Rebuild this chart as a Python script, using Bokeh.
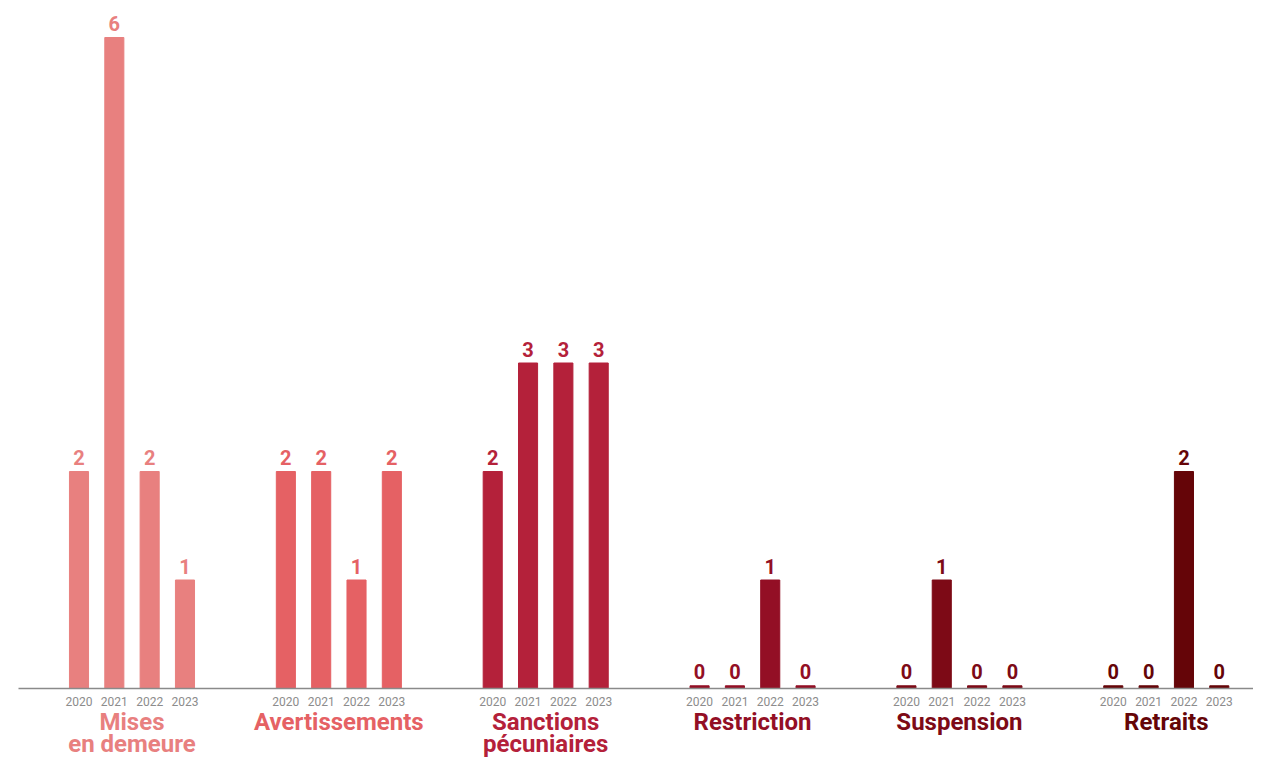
from bokeh.plotting import figure
from bokeh.models import ColumnDataSource, Range1d
from bokeh.core.properties import value
from bokeh.embed import file_html
from bokeh.resources import INLINE

# ---- data ----
categories = ["Mises\nen demeure", "Avertissements", "Sanctions\npécuniaires",
              "Restriction", "Suspension", "Retraits"]
years = ["2020", "2021", "2022", "2023"]
mises = [2, 6, 2, 1]
avertissements = [2, 2, 1, 2]
sanctions = [2, 3, 3, 3]
restriction = [0, 0, 1, 0]
suspension = [0, 1, 0, 0]
retraits = [0, 0, 2, 0]
series = [mises, avertissements, sanctions, restriction, suspension, retraits]
colors = ["#E8807F", "#E56164", "#B4213A", "#930F25", "#7D0A16", "#650508"]

# ---- layout constants ----
GROUP_STEP = 5.855   # bar slots between group starts
BAR_W = 0.54
ZERO_H = 0.025       # visible stub for zero values
PX_PER_UNIT_X = 35.33
PX_PER_UNIT_Y = 108.5
W, H = 1253, 757
BASE_PX = 688
FIRST_BAR_PX = 78.5

xs, tops, vals, cols, yl = [], [], [], [], []
for g, vs in enumerate(series):
    for j, v in enumerate(vs):
        xs.append(g * GROUP_STEP + j)
        vals.append(str(v))
        tops.append(v if v > 0 else ZERO_H)
        cols.append(colors[g])
        yl.append(years[j])

bars = ColumnDataSource(dict(x=xs, top=tops, val=vals, color=cols, year=yl))
gx = [g * GROUP_STEP + 1.5 for g in range(len(categories))]
line1 = [c.split("\n")[0] for c in categories]
line2 = [c.split("\n")[1] if "\n" in c else "" for c in categories]
groups = ColumnDataSource(dict(x=gx, y=[0] * len(categories), l1=line1, l2=line2, color=colors))

x0 = -FIRST_BAR_PX / PX_PER_UNIT_X
y0 = -(H - BASE_PX) / PX_PER_UNIT_Y
p = figure(width=W, height=H, output_backend="svg", toolbar_location=None,
           title=None, min_border=0,
           x_range=Range1d(x0, x0 + W / PX_PER_UNIT_X),
           y_range=Range1d(y0, y0 + H / PX_PER_UNIT_Y))
p.axis.visible = False
p.grid.visible = False
p.outline_line_color = None
p.background_fill_color = "white"

p.vbar(x="x", top="top", bottom=0, width=BAR_W, color="color", source=bars)

# baseline
p.segment(x0=[x0 + 18 / PX_PER_UNIT_X], x1=[x0 + W / PX_PER_UNIT_X], y0=[0], y1=[0],
          line_color="#8a8a8a", line_width=1.3)

# value labels
p.text(x="x", y="top", text="val", source=bars, text_color="color",
       text_font=value("Roboto"), text_font_style="bold", text_font_size="20px",
       text_align="center", text_baseline="alphabetic", y_offset=-14)

# year labels
p.text(x="x", y=0, text="year", source=bars, text_color="#8c8c8c",
       text_font=value("Roboto"), text_font_size="12px",
       text_align="center", text_baseline="middle", y_offset=13)

# group labels (two lines)
for col, off in (("l1", 19), ("l2", 41)):
    p.text(x="x", y="y", text=col, source=groups, text_color="color",
           text_font=value("Roboto"), text_font_style="bold", text_font_size="24px",
           text_align="center", text_baseline="top", y_offset=off)

open("out.html", "w").write(file_html(p, INLINE))
